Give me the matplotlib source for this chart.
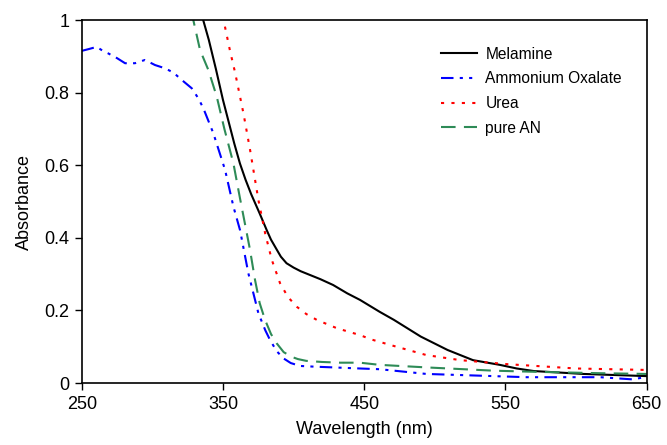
import matplotlib
matplotlib.use("Agg")
import matplotlib.pyplot as plt
from matplotlib.ticker import FormatStrFormatter

plt.rcParams['font.family'] = ['Liberation Sans', 'DejaVu Sans']

# Melamine
mel_x = [333, 336, 340, 345, 350, 354, 358, 362, 366, 370, 376, 381, 384, 388, 391,
         395, 400, 405, 412, 419, 428, 438, 447, 461, 471, 490, 509, 527, 546, 558,
         570, 605, 650]
mel_y = [1.05, 1.0, 0.945, 0.865, 0.78, 0.72, 0.66, 0.605, 0.56, 0.52, 0.467, 0.421,
         0.395, 0.368, 0.348, 0.33, 0.318, 0.308, 0.297, 0.286, 0.27, 0.247, 0.229,
         0.196, 0.174, 0.128, 0.091, 0.063, 0.05, 0.04, 0.033, 0.025, 0.019]

# Ammonium Oxalate
ox_x = [250, 255, 260.6, 265, 268.8, 275, 280.7, 287.7, 294.8, 301.9, 309, 315, 320.8,
        327.9, 332.6, 336.1, 343.2, 351.5, 357.4, 362.1, 368, 375.1, 380, 383.4, 388,
        392.8, 398, 404.6, 415, 428.2, 447, 461, 494, 541.5, 565, 617, 640, 650]
ox_y = [0.915, 0.92, 0.926, 0.915, 0.908, 0.895, 0.881, 0.881, 0.89, 0.876, 0.867,
        0.855, 0.835, 0.812, 0.784, 0.757, 0.688, 0.587, 0.486, 0.421, 0.302, 0.192,
        0.145, 0.118, 0.088, 0.068, 0.055, 0.047, 0.045, 0.043, 0.040, 0.038, 0.025,
        0.019, 0.016, 0.016, 0.01, 0.017]

# Urea
urea_x = [350, 351.5, 355, 358.6, 364.5, 369.2, 375.1, 380, 384.6, 390.4, 396, 402.3,
          409, 416.4, 430.6, 447, 455, 471, 494, 518, 551, 600, 650]
urea_y = [1.01, 0.98, 0.915, 0.855, 0.743, 0.642, 0.504, 0.41, 0.339, 0.275, 0.237,
          0.21, 0.19, 0.174, 0.151, 0.132, 0.12, 0.102, 0.077, 0.063, 0.052, 0.04, 0.036]

# pure AN
an_x = [250, 327, 329, 333.8, 339.7, 345.6, 351, 357.4, 362, 366, 369, 372.7, 376,
        379.8, 384, 388.1, 393, 398.7, 403, 409, 420, 433, 447, 461, 494, 541.5, 570,
        617, 650]
an_y = [1.2, 1.03, 1.0, 0.917, 0.862, 0.789, 0.70, 0.605, 0.51, 0.43, 0.37, 0.284,
        0.22, 0.174, 0.135, 0.109, 0.085, 0.072, 0.066, 0.061, 0.058, 0.056, 0.056,
        0.05, 0.043, 0.034, 0.031, 0.027, 0.025]

fig = plt.figure(figsize=(6.67, 4.45), dpi=100)
ax = fig.add_axes([0.1225, 0.1393, 0.8471, 0.8157])

ax.plot(mel_x, mel_y, color='black', lw=1.5, label='Melamine')
ax.plot(ox_x, ox_y, color='#0000ff', lw=1.5, dashes=(6, 3, 1.5, 3, 1.5, 3),
        label='Ammonium Oxalate')
ax.plot(urea_x, urea_y, color='#ff0000', lw=1.5, dashes=(1.5, 3.5), label='Urea')
ax.plot(an_x, an_y, color='#2e8b57', lw=1.5, dashes=(7, 4), label='pure AN')

ax.set_xlim(250, 650)
ax.set_ylim(0, 1)
ax.set_xticks([250, 350, 450, 550, 650])
ax.set_yticks([0, 0.2, 0.4, 0.6, 0.8, 1])
ax.yaxis.set_major_formatter(FormatStrFormatter('%g'))
ax.tick_params(direction='out', length=5, width=1, labelsize=13, pad=4)
for s in ax.spines.values():
    s.set_linewidth(1.2)

ax.set_xlabel('Wavelength (nm)', fontsize=13, labelpad=6)
ax.set_ylabel('Absorbance', fontsize=13, labelpad=8)

ax.legend(loc='upper left', bbox_to_anchor=(0.611, 0.965), frameon=False,
          fontsize=11.2, handlelength=2.3, handletextpad=0.55, labelspacing=0.62)

fig.savefig('out.png', dpi=100)
